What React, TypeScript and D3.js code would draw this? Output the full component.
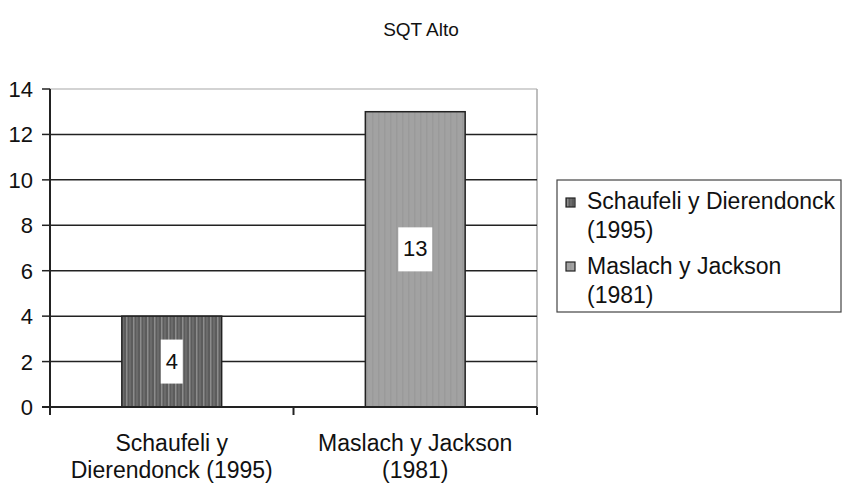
import React from "react";
import * as d3 from "d3";

const categories = ["Schaufeli y Dierendonck (1995)", "Maslach y Jackson (1981)"];
const categoryLines = [["Schaufeli y", "Dierendonck (1995)"], ["Maslach y Jackson", "(1981)"]];
const values = [4, 13];
const legendLines = [["Schaufeli y Dierendonck", "(1995)"], ["Maslach y Jackson", "(1981)"]];
const yTicks = [0, 2, 4, 6, 8, 10, 12, 14];
const title = "SQT Alto";

export default function App() {
  const W = 843, H = 484;
  const left = 50, right = 537, top = 89, bottom = 407;
  const x = d3.scaleBand<string>().domain(categories).range([left, right]).paddingInner(0.59).paddingOuter(0.295);
  const y = d3.scaleLinear().domain([0, 14]).range([bottom, top]);
  const font = "'Liberation Sans', Arial, sans-serif";
  const fills = ["url(#stripeDark)", "url(#stripeLight)"];
  return (
    <svg width={W} height={H} style={{ position: "absolute", left: 0, top: 0, background: "#fff" }} fontFamily={font}>
      <defs>
        <pattern id="stripeDark" patternUnits="userSpaceOnUse" width="7" height="10">
          <rect width="7" height="10" fill="#5c5c5c" />
          <rect x="0" width="1.5" height="10" fill="#8c8c8c" />
          <rect x="3.5" width="1" height="10" fill="#7a7a7a" />
        </pattern>
        <pattern id="stripeLight" patternUnits="userSpaceOnUse" width="6" height="10">
          <rect width="6" height="10" fill="#a2a2a2" />
          <rect x="0" width="1.5" height="10" fill="#9a9a9a" />
        </pattern>
      </defs>
      <text x={421} y={36} textAnchor="middle" fontSize={19} fill="#111">{title}</text>
      {/* plot border */}
      <line x1={left} x2={right} y1={top} y2={top} stroke="#c4c4c4" strokeWidth={1.5} />
      <line x1={right} x2={right} y1={top} y2={bottom} stroke="#a8a8a8" strokeWidth={1.5} />
      {/* grid */}
      {yTicks.filter(t => t > 0 && t < 14).map(t => (
        <line key={t} x1={left} x2={right} y1={y(t)} y2={y(t)} stroke="#222" strokeWidth={1.5} />
      ))}
      {/* bars */}
      {categories.map((c, i) => (
        <rect key={c} x={x(c)} y={y(values[i])} width={x.bandwidth()} height={bottom - y(values[i])} fill={fills[i]} stroke="#222" strokeWidth={1.5} />
      ))}
      {/* value labels */}
      {categories.map((c, i) => {
        const cx = (x(c) as number) + x.bandwidth() / 2;
        const cy = (y(values[i]) + bottom) / 2 + (i === 1 ? -10 : 0);
        const w = String(values[i]).length * 12 + 10;
        return (
          <g key={"l" + c}>
            <rect x={cx - w / 2} y={cy - 22} width={w} height={44} fill="#fff" />
            <text x={cx} y={cy + 7} textAnchor="middle" fontSize={22} fill="#111">{values[i]}</text>
          </g>
        );
      })}
      {/* axes */}
      <line x1={left} x2={left} y1={top} y2={bottom + 1} stroke="#222" strokeWidth={2} />
      <line x1={left - 8} x2={right} y1={bottom} y2={bottom} stroke="#222" strokeWidth={2} />
      {yTicks.map(t => (
        <g key={"t" + t}>
          <line x1={left - 8} x2={left} y1={y(t)} y2={y(t)} stroke="#222" strokeWidth={1.5} />
          <text x={33} y={y(t) + 8} textAnchor="end" fontSize={22} fill="#111">{t}</text>
        </g>
      ))}
      {[left, (left + right) / 2, right].map((px, i) => (
        <line key={"xt" + i} x1={px} x2={px} y1={bottom} y2={bottom + 8} stroke="#222" strokeWidth={2} />
      ))}
      {categories.map((c, i) => {
        const cx = (x(c) as number) + x.bandwidth() / 2;
        return (
          <text key={"xl" + c} textAnchor="middle" fontSize={23} fill="#111">
            {categoryLines[i].map((ln, j) => (
              <tspan key={j} x={cx} y={451 + j * 27}>{ln}</tspan>
            ))}
          </text>
        );
      })}
      {/* legend */}
      <rect x={557} y={180} width={284} height={132} fill="#fff" stroke="#444" strokeWidth={1.2} />
      {legendLines.map((lines, i) => (
        <g key={"lg" + i}>
          <rect x={566} y={198 + i * 64} width={9} height={9} fill={fills[i]} stroke="#222" strokeWidth={1.2} />
          <text fontSize={23} fill="#111">
            {lines.map((ln, j) => (
              <tspan key={j} x={587} y={209 + i * 65 + j * 29}>{ln}</tspan>
            ))}
          </text>
        </g>
      ))}
    </svg>
  );
}
